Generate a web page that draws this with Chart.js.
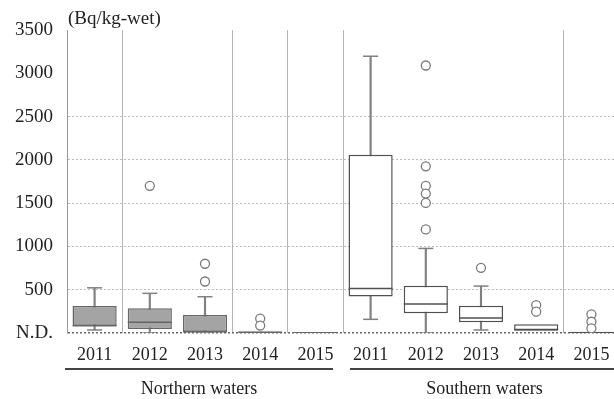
<!DOCTYPE html>
<html>
<head>
<meta charset="utf-8">
<script src="https://cdn.jsdelivr.net/npm/chart.js@4/dist/chart.umd.min.js"></script>
<style>
    html, body { margin: 0; padding: 0; background: #fff; overflow: hidden; }
    canvas { display: block; }
</style>
</head>
<body>
<canvas id="boxChart" width="619" height="399"></canvas>
<script>
// data (Bq/kg-wet)
const regions = ["Northern waters", "Southern waters"];
const years = ["2011", "2012", "2013", "2014", "2015"];
const yTicks = [0, 500, 1000, 1500, 2000, 2500, 3000, 3500];

const whiskerLow  = [35, 0, 0, null, null, 158, 0, 35, null, null];
const q1          = [84, 46, 15, 0, 0, 423, 227, 123, 27, 0];
const median      = [84, 123, 15, 4, 3, 515, 334, 173, 40, 3];
const q3          = [311, 285, 207, 20, 12, 2060, 545, 315, 100, 14];
const whiskerHigh = [522, 458, 419, null, null, 3197, 977, 542, null, null];

const outlierCat = [1, 2, 2, 3, 3, 6, 6, 6, 6, 6, 6, 7, 8, 8, 9, 9, 9];
const outlierVal = [1700, 800, 595, 167, 86, 3090, 1925, 1700, 1610, 1502, 1196, 753, 323, 246, 216, 130, 54];

const labels = regions.flatMap(r => years.map(y => r + " " + y));
const gridAt = [1, 3, 4, 5, 9];
const FONT = "'Liberation Serif', 'Times New Roman', serif";
const TEXT = "#222";

const groupLabels = {
    id: "groupLabels",
    afterDraw(chart) {
        const { ctx, chartArea, scales } = chart;
        const x = scales.x;
        const half = (x.getPixelForValue(1) - x.getPixelForValue(0)) / 2;
        ctx.save();
        ctx.fillStyle = TEXT;
        ctx.font = "19px " + FONT;
        ctx.textBaseline = "middle";
        ctx.textAlign = "left";
        ctx.fillText("(Bq/kg-wet)", chartArea.left + 1, 19);

        ctx.font = "18px " + FONT;
        ctx.textAlign = "center";
        regions.forEach((r, k) => {
            const first = k * years.length;
            const last = first + years.length - 1;
            const left = x.getPixelForValue(first) - half + (k === 0 ? -2 : 7);
            const right = x.getPixelForValue(last) + half - (k === 0 ? 10 : 0);
            ctx.fillStyle = "#444";
            ctx.fillRect(left, 368, right - left, 2);
            ctx.fillStyle = TEXT;
            ctx.fillText(r, (left + right) / 2, 389);
        });
        ctx.restore();
    }
};

new Chart(document.getElementById("boxChart"), {
    type: "bar",
    data: {
        labels: labels,
        datasets: [
            {
                // whisker stems
                type: "bar",
                data: whiskerLow.map((lo, i) => lo === null ? null : [lo, whiskerHigh[i]]),
                backgroundColor: "#808080",
                barThickness: 1.5,
                grouped: false,
                order: 3
            },
            {
                // boxes
                type: "bar",
                data: q1.map((v, i) => [v, q3[i]]),
                backgroundColor: labels.map((_, i) => i < years.length ? "#a4a4a4" : "#ffffff"),
                borderColor: labels.map((_, i) => i < years.length ? "#666666" : "#505050"),
                borderWidth: 1.5,
                borderSkipped: false,
                barPercentage: 0.8,
                categoryPercentage: 1,
                grouped: false,
                order: 2
            },
            {
                // whisker caps
                type: "line",
                data: whiskerHigh,
                showLine: false,
                pointStyle: "line",
                pointRadius: 7.5,
                pointBorderColor: "#808080",
                pointBorderWidth: 1.5,
                order: 1
            },
            {
                type: "line",
                data: whiskerLow,
                showLine: false,
                pointStyle: "line",
                pointRadius: 7.5,
                pointBorderColor: "#808080",
                pointBorderWidth: 1.5,
                order: 1
            },
            {
                // medians
                type: "line",
                data: median,
                showLine: false,
                pointStyle: "line",
                pointRadius: 22,
                pointBorderColor: labels.map((_, i) => i < years.length ? "#666666" : "#505050"),
                pointBorderWidth: 1.5,
                order: 1
            },
            {
                // outliers
                type: "line",
                data: outlierCat.map((c, i) => ({ x: labels[c], y: outlierVal[i] })),
                showLine: false,
                pointStyle: "circle",
                pointRadius: 4.5,
                pointBackgroundColor: "#ffffff",
                pointBorderColor: "#7a7a7a",
                pointBorderWidth: 1.3,
                order: 0
            }
        ]
    },
    options: {
        responsive: false,
        animation: false,
        events: [],
        layout: { autoPadding: false, padding: { top: 30, right: 0, left: 0, bottom: 0 } },
        plugins: {
            legend: { display: false },
            tooltip: { enabled: false }
        },
        scales: {
            x: {
                offset: true,
                afterFit: s => { s.height = 66; s.paddingLeft = 0; s.paddingRight = 0; },
                grid: {
                    drawTicks: false,
                    color: c => gridAt.includes(c.index) ? "#b4b4b4" : "transparent",
                    lineWidth: 1
                },
                border: { display: false },
                ticks: {
                    padding: 11,
                    color: TEXT,
                    font: { family: FONT, size: 18 },
                    maxRotation: 0,
                    autoSkip: false,
                    callback: (v, i) => years[i % years.length]
                }
            },
            y: {
                min: yTicks[0],
                max: yTicks[yTicks.length - 1],
                afterFit: s => { s.width = 67; },
                afterBuildTicks: s => { s.ticks = yTicks.map(v => ({ value: v })); },
                grid: {
                    drawTicks: false,
                    color: c => c.tick.value === 0 ? "#666" : (c.tick.value <= 2500 ? "#bdbdbd" : "transparent"),
                    lineWidth: c => c.tick.value === 0 ? 1.5 : 1
                },
                border: { display: true, color: "#999", width: 1, dash: [2, 2] },
                ticks: {
                    padding: 14,
                    color: TEXT,
                    font: { family: FONT, size: 19 },
                    callback: v => v === 0 ? "N.D." : v
                }
            }
        }
    },
    plugins: [groupLabels]
});
</script>
</body>
</html>
